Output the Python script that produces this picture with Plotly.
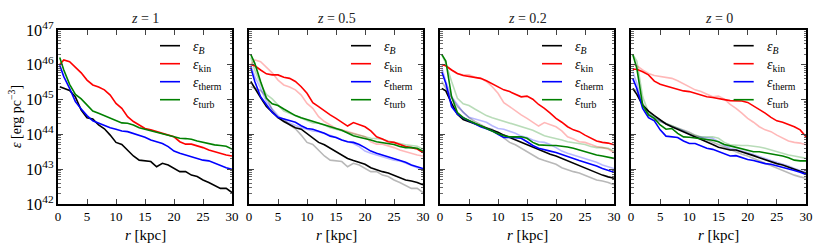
import plotly.graph_objects as go

# radius grid [kpc]
r = [0.3] + list(range(1, 31))

# log10 of energy density [erg pc^-3]
# z = 1
eB_z1 = [45.37, 45.32, 45.26, 45.08, 44.70, 44.48, 44.44, 44.27, 44.16, 43.98, 43.77, 43.71, 43.55, 43.38, 43.26, 43.24,
         43.22, 43.07, 43.17, 43.12, 43.02, 42.93, 42.93, 42.83, 42.79, 42.69, 42.62, 42.53, 42.45, 42.45, 42.33]
ekin_z1 = [46.01, 46.14, 46.09, 45.92, 45.77, 45.56, 45.42, 45.36, 45.28, 45.13, 44.89, 44.75, 44.51, 44.37, 44.27, 44.17,
           44.13, 44.08, 44.03, 44.00, 43.93, 43.79, 43.72, 43.72, 43.68, 43.62, 43.55, 43.50, 43.46, 43.41, 43.38]
etherm_z1 = [45.99, 45.66, 45.32, 44.94, 44.73, 44.54, 44.39, 44.32, 44.25, 44.19, 44.15, 44.10, 44.08, 44.03, 43.98, 43.92,
             43.84, 43.79, 43.74, 43.65, 43.52, 43.46, 43.41, 43.36, 43.29, 43.26, 43.24, 43.17, 43.10, 43.04, 43.00]
eturb_z1 = [46.21, 45.85, 45.44, 45.15, 45.02, 44.84, 44.67, 44.61, 44.54, 44.46, 44.38, 44.33, 44.32, 44.27, 44.19, 44.15,
            44.10, 44.06, 44.01, 43.98, 43.93, 43.89, 43.88, 43.86, 43.81, 43.77, 43.73, 43.70, 43.68, 43.66, 43.58]
# z = 0.5
eB_z05 = [45.52, 45.32, 45.06, 44.80, 44.63, 44.48, 44.37, 44.27, 44.19, 44.15, 44.03, 43.89, 43.77, 43.70, 43.60, 43.50,
          43.41, 43.31, 43.25, 43.20, 43.14, 43.04, 42.98, 42.93, 42.89, 42.83, 42.76, 42.69, 42.66, 42.62, 42.55]
ekin_z05 = [46.01, 45.97, 45.85, 45.74, 45.71, 45.71, 45.64, 45.61, 45.52, 45.37, 45.18, 44.91, 44.80, 44.67, 44.56, 44.46,
            44.35, 44.24, 44.34, 44.27, 44.22, 44.10, 43.93, 43.87, 43.79, 43.77, 43.70, 43.65, 43.62, 43.58, 43.48]
etherm_z05 = [45.92, 45.52, 45.08, 44.84, 44.63, 44.49, 44.44, 44.41, 44.35, 44.25, 44.17, 44.15, 44.10, 44.03, 43.95, 43.91,
              43.84, 43.79, 43.77, 43.71, 43.62, 43.52, 43.46, 43.41, 43.35, 43.31, 43.26, 43.20, 43.12, 43.07, 43.02]
eturb_z05 = [46.30, 46.04, 45.52, 45.04, 44.88, 44.83, 44.73, 44.63, 44.54, 44.48, 44.43, 44.37, 44.31, 44.27, 44.22, 44.17,
             44.12, 44.04, 43.96, 43.92, 43.89, 43.84, 43.79, 43.77, 43.74, 43.71, 43.65, 43.62, 43.62, 43.60, 43.52]
# z = 0.2
eB_z02 = [45.32, 45.25, 44.89, 44.58, 44.43, 44.37, 44.29, 44.24, 44.17, 44.12, 44.06, 43.98, 43.91, 43.84, 43.77, 43.70,
          43.64, 43.58, 43.50, 43.43, 43.38, 43.31, 43.25, 43.17, 43.09, 43.02, 42.97, 42.90, 42.83, 42.78, 42.74]
ekin_z02 = [46.01, 45.97, 45.85, 45.75, 45.69, 45.66, 45.63, 45.61, 45.54, 45.45, 45.37, 45.28, 45.23, 45.15, 45.08, 45.10,
            45.01, 44.86, 44.75, 44.61, 44.46, 44.35, 44.22, 44.13, 44.08, 43.98, 43.89, 43.81, 43.77, 43.75, 43.70]
etherm_z02 = [45.80, 45.47, 44.80, 44.58, 44.48, 44.39, 44.30, 44.22, 44.16, 44.10, 44.00, 43.91, 43.92, 43.91, 43.89, 43.79,
              43.68, 43.60, 43.55, 43.52, 43.48, 43.43, 43.38, 43.31, 43.25, 43.20, 43.14, 43.09, 43.02, 42.97, 42.91]
eturb_z02 = [46.30, 46.11, 45.08, 44.63, 44.48, 44.39, 44.32, 44.25, 44.17, 44.10, 44.02, 43.96, 43.93, 43.93, 43.93, 43.89,
             43.77, 43.70, 43.68, 43.68, 43.68, 43.67, 43.64, 43.60, 43.55, 43.50, 43.45, 43.41, 43.38, 43.35, 43.31]
# z = 0
eB_z0 = [45.32, 45.15, 44.84, 44.67, 44.54, 44.41, 44.30, 44.22, 44.15, 44.08, 44.01, 43.93, 43.86, 43.79, 43.71, 43.63,
         43.58, 43.55, 43.55, 43.50, 43.46, 43.39, 43.33, 43.27, 43.22, 43.16, 43.12, 43.06, 43.00, 42.93, 42.88]
ekin_z0 = [45.87, 45.87, 45.80, 45.71, 45.53, 45.44, 45.39, 45.34, 45.28, 45.25, 45.23, 45.18, 45.13, 45.08, 45.06, 45.04,
           45.00, 44.97, 44.96, 44.96, 44.92, 44.82, 44.70, 44.61, 44.49, 44.39, 44.35, 44.29, 44.22, 44.13, 43.93]
etherm_z0 = [45.61, 45.32, 44.75, 44.48, 44.39, 44.13, 43.95, 43.93, 43.91, 43.81, 43.74, 43.74, 43.67, 43.60, 43.57, 43.50,
             43.43, 43.38, 43.39, 43.33, 43.28, 43.25, 43.20, 43.16, 43.14, 43.10, 43.04, 43.00, 42.96, 42.91, 42.85]
eturb_z0 = [46.30, 45.90, 44.84, 44.56, 44.46, 44.27, 44.15, 44.17, 44.03, 43.93, 43.92, 43.90, 43.88, 43.86, 43.83, 43.79,
            43.71, 43.67, 43.63, 43.58, 43.54, 43.50, 43.50, 43.47, 43.45, 43.41, 43.38, 43.33, 43.26, 43.24, 43.24]

redshifts = ["1", "0.5", "0.2", "0"]
series_names = ["<i>ε</i><sub><i>B</i></sub>", "<i>ε</i><sub>kin</sub>",
                "<i>ε</i><sub>therm</sub>", "<i>ε</i><sub>turb</sub>"]
colors = ["#000000", "#ff0000", "#0000ff", "#008000"]
snapshots = [
    [eB_z1, ekin_z1, etherm_z1, eturb_z1],
    [eB_z05, ekin_z05, etherm_z05, eturb_z05],
    [eB_z02, ekin_z02, etherm_z02, eturb_z02],
    [eB_z0, ekin_z0, etherm_z0, eturb_z0],
]

W, H = 830, 249
FONT = "Liberation Serif, Times New Roman, DejaVu Serif, serif"
panel_px = [(58, 232), (249, 423), (440, 614), (631, 806)]
top_px, bot_px = 30, 204
PW = 174.0  # panel size in px

# legend layout inside each panel (fractions of the panel)
leg_rows = [(bot_px - y) / PW for y in (45.7, 63.7, 81.7, 99.7)]
leg_x0, leg_x1, leg_tx = 102 / PW, 122 / PW, 133 / PW

fig = go.Figure()
layout = {}
shapes = []
annotations = []
for i, (x0, x1) in enumerate(panel_px):
    n = "" if i == 0 else str(i + 1)
    xa, ya = "x" + n, "y" + n
    # faded previous snapshot
    if i > 0:
        for s in range(4):
            fig.add_trace(go.Scatter(
                x=r, y=[10 ** v for v in snapshots[i - 1][s]], mode="lines",
                line=dict(color=colors[s], width=1.6), opacity=0.28,
                showlegend=False, hoverinfo="skip", xaxis=xa, yaxis=ya))
    for s in range(4):
        fig.add_trace(go.Scatter(
            x=r, y=[10 ** v for v in snapshots[i][s]], mode="lines",
            line=dict(color=colors[s], width=1.6), name=series_names[s],
            showlegend=False, xaxis=xa, yaxis=ya))
        # legend entry
        shapes.append(dict(type="line", xref=xa + " domain", yref=ya + " domain",
                           x0=leg_x0, x1=leg_x1, y0=leg_rows[s], y1=leg_rows[s],
                           line=dict(color=colors[s], width=1.6)))
        annotations.append(dict(text=series_names[s], xref=xa + " domain", yref=ya + " domain",
                                x=leg_tx, y=leg_rows[s] - 1.5 / PW, xanchor="left", yanchor="middle",
                                showarrow=False, font=dict(family=FONT, size=14, color="black")))
    layout["xaxis" + n] = dict(
        domain=[x0 / W, x1 / W], anchor=ya, range=[0, 30],
        tickvals=[0, 5, 10, 15, 20, 25, 30], ticks="inside", ticklen=5, tickwidth=1,
        showline=True, linecolor="black", linewidth=1.8, mirror="ticks",
        showgrid=False, zeroline=False, automargin=False,
        tickfont=dict(family=FONT, size=13, color="black"))
    layout["yaxis" + n] = dict(
        domain=[(H - bot_px) / H, (H - top_px) / H], anchor=xa, type="log",
        range=[42, 47], dtick=1, exponentformat="power", showexponent="all",
        ticks="inside", ticklen=5, tickwidth=1,
        minor=dict(ticks="inside", ticklen=2.5, tickwidth=0.8, dtick="D1", showgrid=False),
        showline=True, linecolor="black", linewidth=1.8, mirror="ticks",
        showgrid=False, zeroline=False, showticklabels=(i == 0), automargin=False,
        tickfont=dict(family=FONT, size=13, color="black"))
    annotations.append(dict(
        text="<i>z</i> = " + redshifts[i], x=(x0 + x1) / 2 / W, y=(H - 18) / H,
        xref="paper", yref="paper", showarrow=False, xanchor="center", yanchor="middle",
        font=dict(family=FONT, size=14, color="#222")))
    annotations.append(dict(
        text="<i>r</i> [kpc]", x=(x0 + x1) / 2 / W, y=(H - 235) / H,
        xref="paper", yref="paper", showarrow=False, xanchor="center", yanchor="middle",
        font=dict(family=FONT, size=15, color="black")))
annotations.append(dict(
    text="<i>ε</i> [erg pc<sup>−3</sup>]", x=15 / W, y=(H - 117) / H, textangle=-90,
    xref="paper", yref="paper", showarrow=False, xanchor="center", yanchor="middle",
    font=dict(family=FONT, size=14, color="black")))

fig.update_layout(
    width=W, height=H, margin=dict(l=0, r=0, t=0, b=0, autoexpand=False),
    paper_bgcolor="white", plot_bgcolor="white",
    font=dict(family=FONT, color="black"), showlegend=False,
    shapes=shapes, annotations=annotations, **layout)

fig.write_html("out.html", config={"displayModeBar": False, "staticPlot": True},
               post_script="document.body.style.margin='0px';")
